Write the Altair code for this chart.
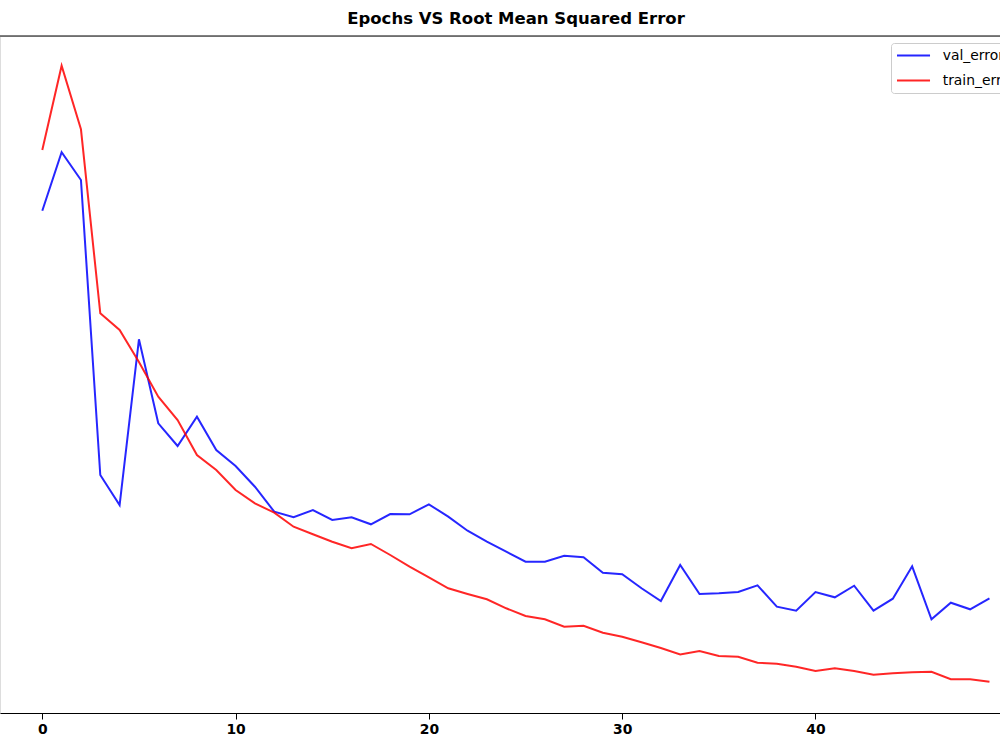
import altair as alt
import pandas as pd

epochs = list(range(50))
val_error = [5.023, 5.607, 5.330, 2.380, 2.080, 3.737, 2.897, 2.670, 2.963, 2.630,
             2.470, 2.263, 2.013, 1.957, 2.030, 1.930, 1.957, 1.887, 1.990, 1.987,
             2.087, 1.963, 1.823, 1.713, 1.613, 1.513, 1.513, 1.573, 1.557, 1.403,
             1.387, 1.247, 1.120, 1.480, 1.190, 1.197, 1.210, 1.277, 1.063, 1.023,
             1.210, 1.157, 1.273, 1.023, 1.143, 1.467, 0.937, 1.103, 1.037, 1.147]
train_error = [5.630, 6.473, 5.837, 3.997, 3.830, 3.510, 3.163, 2.930, 2.580, 2.430,
               2.230, 2.097, 2.003, 1.863, 1.787, 1.713, 1.647, 1.690, 1.580, 1.463,
               1.357, 1.247, 1.190, 1.137, 1.047, 0.970, 0.937, 0.863, 0.873, 0.803,
               0.763, 0.707, 0.650, 0.585, 0.620, 0.570, 0.563, 0.503, 0.493, 0.463,
               0.420, 0.447, 0.420, 0.383, 0.397, 0.407, 0.413, 0.337, 0.337, 0.313]
series_names = ["val_error", "train_error"]
series_colors = ["#0000ff", "#ff0000"]
x_ticks = [0, 10, 20, 30, 40]
title_text = "Epochs VS Root Mean Squared Error"

df = pd.DataFrame({
    "epoch": epochs + epochs,
    "rmse": val_error + train_error,
    "series": [series_names[0]] * len(epochs) + [series_names[1]] * len(epochs),
})

x = alt.X("epoch:Q",
          scale=alt.Scale(domain=[-2.188, 49.545], nice=False, zero=False),
          axis=alt.Axis(values=x_ticks, title=None, grid=False, format="d",
                        tickSize=6, tickColor="black", tickWidth=1,
                        domainColor="black", domainWidth=1,
                        labelFont="DejaVu Sans", labelFontSize=13.9,
                        labelFontWeight="bold", labelColor="black",
                        labelPadding=3))
y = alt.Y("rmse:Q", scale=alt.Scale(domain=[0, 6.77], nice=False, zero=False), axis=None)
color = alt.Color("series:N",
                  scale=alt.Scale(domain=series_names, range=series_colors),
                  legend=alt.Legend(title=None, orient="none", legendX=891, legendY=7,
                                    padding=5, fillColor="white", strokeColor="#cccccc",
                                    cornerRadius=3, symbolType="M-1,0H4.08",
                                    symbolSize=169, symbolStrokeWidth=2,
                                    symbolOpacity=0.85,
                                    labelFont="DejaVu Sans", labelFontSize=13.9,
                                    labelColor="black", labelOffset=31.7,
                                    rowPadding=10))

base = alt.Chart(df)
val_line = base.transform_filter(alt.datum.series == "val_error").mark_line(
    strokeWidth=2, opacity=0.85).encode(x=x, y=y, color=color)
train_line = base.transform_filter(alt.datum.series == "train_error").mark_line(
    strokeWidth=2, opacity=0.85).encode(x=x, y=y, color=color)

top_rule = alt.Chart(pd.DataFrame({"a": [0]})).mark_rule(color="black", strokeWidth=1).encode(
    x=alt.value(0), x2=alt.value(1000), y=alt.value(0))

title = alt.Chart(pd.DataFrame({"t": [title_text]})).mark_text(
    font="DejaVu Sans", fontSize=16.5, fontWeight="bold", baseline="alphabetic",
    align="center", color="black").encode(x=alt.value(516), y=alt.value(-12), text="t:N")

chart = alt.layer(val_line, train_line, top_rule, title).properties(
    width=1000, height=677,
    autosize=alt.AutoSizeParams(type="none"),
    padding={"left": 0, "top": 36, "right": 0, "bottom": 37},
).configure_view(stroke=None).configure(background="white")

chart.save("out.html", embed_options={"renderer": "svg", "actions": False})
